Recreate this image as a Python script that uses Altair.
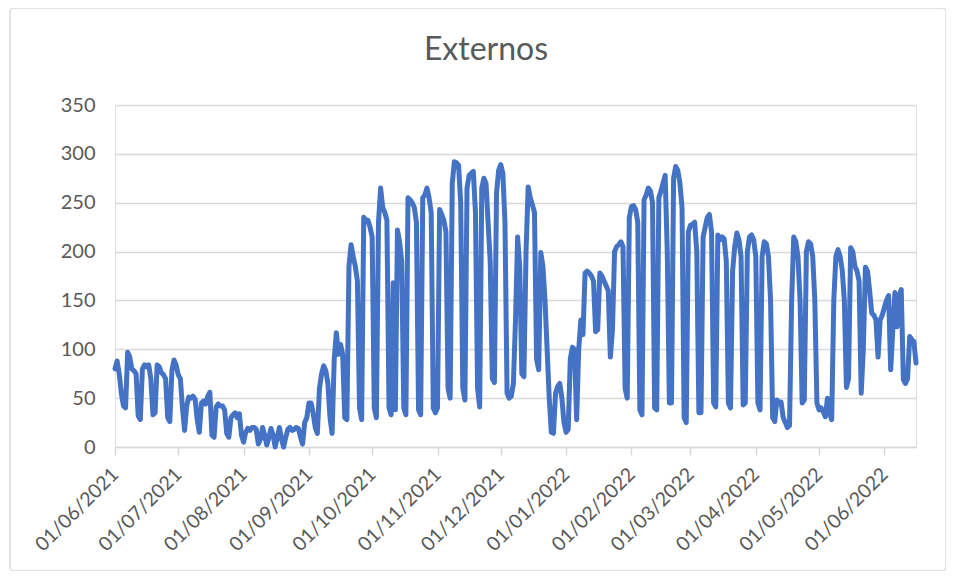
import altair as alt
import pandas as pd

start_date = "2021-06-01"
values = [
    80, 88, 75, 55, 42, 40, 97, 92, 80, 78, 75, 32, 28, 80, 84, 82, 84, 70, 33, 35,
    84, 82, 76, 74, 70, 30, 26, 78, 89, 84, 74, 70, 40, 17, 42, 51, 50, 52, 49, 28,
    15, 45, 47, 44, 52, 56, 12, 10, 41, 44, 42, 42, 38, 14, 10, 30, 33, 35, 30, 34,
    12, 5, 15, 19, 17, 20, 20, 18, 3, 8, 20, 12, 2, 10, 19, 12, 0, 10, 20, 8,
    0, 10, 18, 20, 17, 18, 20, 19, 10, 3, 25, 30, 45, 45, 35, 20, 14, 60, 75, 83,
    78, 65, 30, 14, 90, 117, 95, 105, 95, 30, 28, 185, 207, 195, 185, 170, 40, 28, 235, 232,
    232, 225, 215, 40, 30, 230, 265, 245, 240, 232, 40, 33, 168, 38, 222, 210, 190, 40, 33, 255,
    253, 250, 245, 230, 38, 33, 255, 258, 265, 255, 240, 40, 35, 40, 243, 238, 232, 220, 60, 50,
    270, 292, 291, 288, 250, 60, 48, 265, 278, 280, 282, 240, 60, 41, 265, 275, 270, 230, 190, 70,
    66, 260, 283, 289, 280, 230, 55, 50, 52, 65, 130, 215, 185, 75, 72, 200, 266, 255, 248, 240,
    90, 79, 199, 185, 150, 100, 50, 15, 14, 55, 62, 65, 50, 25, 15, 18, 90, 102, 100, 28,
    100, 130, 115, 178, 180, 178, 175, 170, 118, 120, 178, 175, 170, 165, 160, 92, 120, 200, 205, 207,
    210, 205, 60, 50, 235, 246, 247, 243, 230, 38, 33, 253, 258, 265, 262, 250, 40, 38, 255, 262,
    270, 278, 200, 45, 45, 275, 287, 283, 270, 245, 30, 25, 220, 227, 228, 230, 200, 35, 35, 215,
    225, 235, 238, 220, 45, 41, 217, 212, 215, 213, 190, 45, 40, 180, 205, 219, 212, 195, 43, 45,
    200, 215, 217, 212, 195, 45, 38, 195, 210, 208, 195, 150, 30, 26, 48, 46, 46, 30, 25, 20,
    22, 150, 215, 210, 195, 150, 45, 48, 200, 210, 208, 195, 150, 45, 38, 40, 36, 31, 50, 35,
    28, 150, 195, 202, 195, 181, 150, 61, 70, 204, 200, 185, 180, 170, 55, 100, 184, 180, 160, 137,
    135, 130, 92, 130, 135, 143, 150, 155, 79, 120, 158, 123, 155, 161, 69, 65, 70, 113, 110, 108,
    86,
]
dates = pd.date_range(start_date, periods=len(values), freq="D").strftime("%Y-%m-%d").tolist()
month_ticks = pd.date_range("2021-06-01", "2022-06-01", freq="MS")
y_ticks = [0, 50, 100, 150, 200, 250, 300, 350]
title_text = "Externos"

df = pd.DataFrame({"fecha": dates, "valor": values})

FONT = "Lato"
GREY_TXT = "#595959"
GRID = "#D9D9D9"

tick_values = [alt.DateTime(year=int(d.year), month=int(d.month), date=1, utc=True) for d in month_ticks]

line = alt.Chart(df).mark_line(
    color="#4472C4", strokeWidth=5, strokeJoin="round", strokeCap="round"
).encode(
    x=alt.X(
        "fecha:T",
        scale=alt.Scale(
            type="utc",
            domain=[alt.DateTime(year=2021, month=6, date=1, utc=True),
                    alt.DateTime(year=2022, month=6, date=16, utc=True)],
        ),
        axis=alt.Axis(
            values=tick_values, title=None,
            labelExpr="utcFormat(datum.value, '%d/%m/%Y')",
            labelAngle=-45, labelAlign="right", labelBaseline="middle",
            labelFont=FONT, labelFontSize=19.5, labelColor=GREY_TXT, labelPadding=16,
            domainColor=GRID, domainWidth=1.5, tickColor=GRID, tickWidth=1.5, tickSize=8,
            grid=False, labelOverlap=False,
        ),
    ),
    y=alt.Y(
        "valor:Q",
        scale=alt.Scale(domain=[0, 350], nice=False),
        axis=alt.Axis(
            values=y_ticks, title=None, domain=False, ticks=False,
            labelFont=FONT, labelFontSize=20, labelColor=GREY_TXT, labelPadding=20,
            grid=True, gridColor=GRID, gridWidth=1.5,
        ),
    ),
)

frame = alt.Chart(pd.DataFrame({"a": [0]})).mark_rect(
    fill=None, stroke="#D9D9D9", strokeWidth=1.5, cornerRadius=4, clip=False
).encode(
    x=alt.value(-105), x2=alt.value(831), y=alt.value(-97), y2=alt.value(466)
)

title = alt.Chart(pd.DataFrame({"t": [title_text]})).mark_text(
    font=FONT, fontSize=32, color=GREY_TXT, align="center", baseline="middle"
).encode(
    text="t:N", x=alt.value(371), y=alt.value(-55)
)

chart = alt.layer(frame, line, title).properties(
    width=801,
    height=342,
    autosize=alt.AutoSizeParams(type="none"),
    padding={"left": 107, "top": 97, "right": 30, "bottom": 124},
).configure_view(stroke=None).configure(background="white")

chart.save("out.html", embed_options={"renderer": "svg", "actions": False})
